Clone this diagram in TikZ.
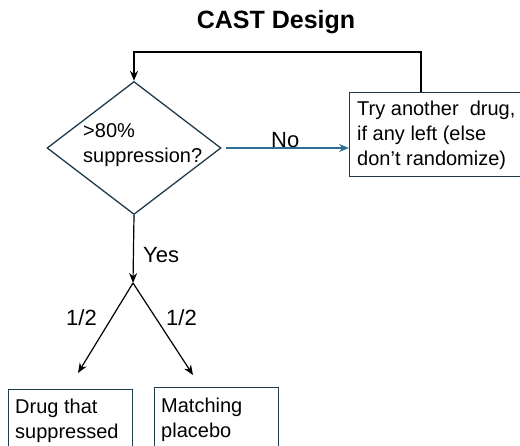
\documentclass[tikz,border=0pt]{standalone}
\usepackage{fontspec}
\setmainfont{Liberation Sans}
\usetikzlibrary{shapes.geometric,arrows.meta}
\definecolor{boxline}{HTML}{1F3A4D}
\definecolor{noline}{HTML}{2E6E94}
\tikzset{
	box/.style={draw=boxline, line width=1.3pt, rectangle, anchor=north west, inner sep=0pt},
	txt/.style={anchor=base west, align=left, inner sep=0pt, font=\fontsize{20}{25}\selectfont},
	lbl/.style={txt, font=\fontsize{22}{25}\selectfont},
	arr/.style={-{Stealth[length=10pt,width=8pt]}, line width=1.2pt}
}

\begin{document}
\begin{tikzpicture}[x=1pt, y=-1pt]
		\useasboundingbox (0,0) rectangle (520,445);
		\node[anchor=base, inner sep=0pt, font=\fontsize{25}{30}\bfseries] (title) at (276,28) {CAST Design};
		\node[diamond, draw=boxline, line width=1.3pt, minimum width=174pt, minimum height=133pt, inner sep=0pt] (dec) at (134,148) {};
		\node[txt] (dectext) at (83,162) {>80\%\\suppression?};
		\node[box, minimum width=180pt, minimum height=84pt] (retry) at (349,92) {};
		\node[txt] (retrytext) at (357,165) {Try another~ drug,\\if any left (else\\don’t randomize)};
		\node[box, minimum width=124pt, minimum height=80pt] (drug) at (8,389) {};
		\node[txt] (drugtext) at (15,438) {Drug that\\suppressed};
		\node[box, minimum width=124pt, minimum height=80pt] (placebo) at (154,387) {};
		\node[txt] (placebotext) at (161,437) {Matching\\placebo};
		\coordinate (back) at (421,52);
		\coordinate (split) at (133,283);
		\coordinate (lend) at (78,373);
		\coordinate (rend) at (193,375);
		\draw[arr, draw=noline, -{Stealth[length=10pt,width=8pt,fill=noline]}] ([xshift=4pt]dec.east) -- (retry.west |- dec.east);
		\node[lbl] (nolabel) at (271,147) {No};
		\draw[arr] (retry.north -| back) -- (back) -| (dec.north);
		\draw[arr] (dec.south) -- (split);
		\node[lbl] (yes) at (143,262) {Yes};
		\draw[arr] (split) -- (lend);
		\draw[arr] (split) -- (rend);
		\node[lbl] (lhalf) at (66,325) {1/2};
		\node[lbl] (rhalf) at (166,325) {1/2};
\end{tikzpicture}
\end{document}
